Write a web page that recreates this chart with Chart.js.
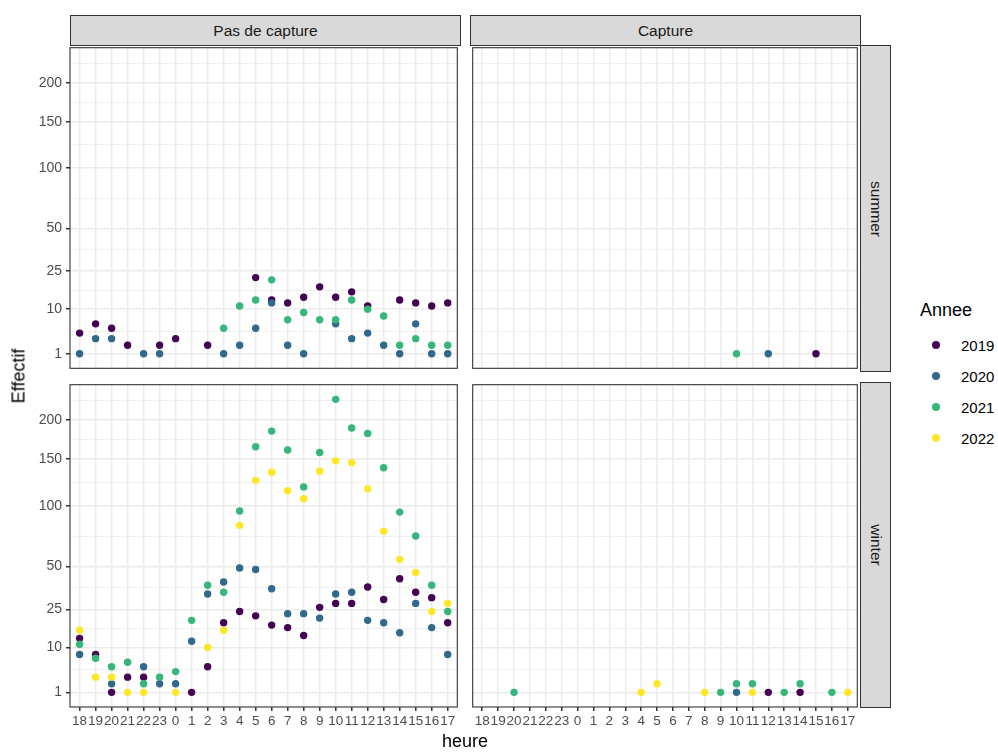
<!DOCTYPE html>
<html>
<head>
<meta charset="utf-8">
<script src="https://cdn.jsdelivr.net/npm/chart.js@4.4.0/dist/chart.umd.min.js"></script>
<style>
  body { margin: 0; background: #fff; font-family: "Liberation Sans", Arial, sans-serif; }
  #wrap { position: relative; width: 998px; height: 753px; overflow: hidden; }
  canvas { position: absolute; }
  .strip { position: absolute; background: #D9D9D9; border: 1px solid #333; box-sizing: border-box;
           color: #1A1A1A; font-size: 15.5px; display: flex; align-items: center; justify-content: center; }
  .strip.side span { transform: rotate(90deg); white-space: nowrap; }
  .title { position: absolute; font-size: 18px; color: #000; white-space: nowrap; }
  .leg { position: absolute; font-size: 15px; color: #000; display: flex; align-items: center; height: 20px; }
  .leg i { display: inline-block; width: 8px; height: 8px; border-radius: 50%; margin-right: 21px; }
</style>
</head>
<body>
<div id="wrap">
  <div class="strip" style="left:70px;top:15px;width:391px;height:31px">Pas de capture</div>
  <div class="strip" style="left:470px;top:15px;width:391px;height:31px">Capture</div>
  <div class="strip side" style="left:860px;top:45px;width:31px;height:327px"><span>summer</span></div>
  <div class="strip side" style="left:860px;top:382px;width:31px;height:326px"><span>winter</span></div>

  <canvas id="sumNo" width="461" height="328" style="left:0;top:44px"></canvas>
  <canvas id="sumCap" width="392" height="328" style="left:469px;top:44px"></canvas>
  <canvas id="winNo" width="461" height="356" style="left:0;top:381px"></canvas>
  <canvas id="winCap" width="392" height="356" style="left:469px;top:381px"></canvas>

  <div class="title" style="left:19px;top:376px;transform:translate(-50%,-50%) rotate(-90deg)">Effectif</div>
  <div class="title" style="left:465px;top:731px;transform:translateX(-50%)">heure</div>

  <div class="title" style="left:920px;top:300px">Annee</div>
  <div id="legend"></div>
</div>
<script>
const hours = ['18','19','20','21','22','23','0','1','2','3','4','5','6','7','8','9','10','11','12','13','14','15','16','17'];
const years = ['2019', '2020', '2021', '2022'];
const colors = ['#440154', '#31688E', '#35B779', '#FDE725'];
const yTickValues = [1, 10, 25, 50, 100, 150, 200];

// summer, pas de capture (one value per hour, null = no point)
const summerNo2019 = [4, 6, 5, 2, null, 2, 3, null, 2, null, null, 22, 13, 12, 14, 18, 14, 16, 11, null, 13, 12, 11, 12];
const summerNo2020 = [1, 3, 3, null, 1, 1, null, null, null, 1, 2, 5, 12, 2, 1, null, 6, 3, 4, 2, 1, 6, 1, 1];
const summerNo2021 = [null, null, null, null, null, null, null, null, null, 5, 11, 13, 21, 7, 9, 7, 7, 13, 10, 8, 2, 3, 2, 2];
const summerNo2022 = [null, null, null, null, null, null, null, null, null, null, null, null, null, null, null, null, null, null, null, null, null, null, null, null];

// summer, capture
const summerCap2019 = [null, null, null, null, null, null, null, null, null, null, null, null, null, null, null, null, null, null, null, null, null, 1, null, null];
const summerCap2020 = [null, null, null, null, null, null, null, null, null, null, null, null, null, null, null, null, null, null, 1, null, null, null, null, null];
const summerCap2021 = [null, null, null, null, null, null, null, null, null, null, null, null, null, null, null, null, 1, null, null, null, null, null, null, null];
const summerCap2022 = [null, null, null, null, null, null, null, null, null, null, null, null, null, null, null, null, null, null, null, null, null, null, null, null];

// winter, pas de capture
const winterNo2019 = [13, 8, 1, 3, 3, null, null, 1, 5, 19, 24, 22, 18, 17, 14, 26, 28, 28, 37, 30, 42, 34, 31, 19];
const winterNo2020 = [8, null, 2, null, 5, 2, 2, 12, 33, 40, 49, 48, 36, 23, 23, 21, 33, 34, 20, 19, 15, 28, 17, 8];
const winterNo2021 = [11, 7, 5, 6, 2, 3, 4, 20, 38, 34, 95, 165, 185, 161, 119, 158, 229, 189, 182, 140, 94, 73, 38, 24];
const winterNo2022 = [16, 3, 3, 1, 1, null, 1, null, 10, 16, 82, 126, 135, 115, 107, 136, 148, 146, 117, 77, 55, 46, 24, 28];

// winter, capture
const winterCap2019 = [null, null, null, null, null, null, null, null, null, null, null, null, null, null, null, null, null, null, 1, null, 1, null, null, null];
const winterCap2020 = [null, null, null, null, null, null, null, null, null, null, null, null, null, null, null, null, 1, null, null, null, null, null, null, null];
const winterCap2021 = [null, null, 1, null, null, null, null, null, null, null, null, null, null, null, null, 1, 2, 2, null, 1, 2, null, 1, null];
const winterCap2022 = [null, null, null, null, null, null, null, null, null, null, 1, 2, null, null, 1, null, null, 1, null, null, null, null, null, 1];

const allSeries = [summerNo2019, summerNo2020, summerNo2021, summerNo2022, summerCap2019, summerCap2020, summerCap2021,
  winterNo2019, winterNo2020, winterNo2021, winterNo2022, winterCap2019, winterCap2020, winterCap2021, winterCap2022];

// sqrt scale, ggplot-style 5% expansion
const vals = allSeries.flat().filter(v => v !== null).map(Math.sqrt);
const sLo = Math.min(...vals), sHi = Math.max(...vals);
const yMin = sLo - (sHi - sLo) * 0.05, yMax = sHi + (sHi - sLo) * 0.05;

const majorS = yTickValues.map(Math.sqrt);
const minorS = [];
for (let i = 0; i < majorS.length - 1; i++) minorS.push((majorS[i] + majorS[i + 1]) / 2);
minorS.push(majorS[majorS.length - 1] + (majorS[majorS.length - 1] - majorS[majorS.length - 2]) / 2);
const yTicks = majorS.concat(minorS.filter(v => v > yMin && v < yMax)).sort((a, b) => a - b);
const majorIdx = v => majorS.findIndex(s => Math.abs(s - v) < 1e-9);

const panelBorder = {
  id: 'panelBorder',
  afterDraw(chart) {
    const { ctx, chartArea: a } = chart;
    ctx.save();
    ctx.strokeStyle = '#333333';
    ctx.lineWidth = 1.1;
    ctx.strokeRect(a.left, a.top, a.right - a.left, a.bottom - a.top);
    ctx.restore();
  }
};

function makePanel(id, series, showX, showY, padding) {
  const datasets = series.map((s, i) => ({
    label: years[i],
    data: s.map((v, k) => v === null ? null : { x: k, y: Math.sqrt(v) }).filter(p => p),
    backgroundColor: colors[i],
    borderWidth: 0,
    pointRadius: 3.7,
    pointHoverRadius: 3.7,
    order: 3 - i
  }));
  new Chart(document.getElementById(id), {
    type: 'scatter',
    data: { datasets },
    options: {
      responsive: false,
      animation: false,
      events: [],
      devicePixelRatio: 1,
      layout: { padding },
      plugins: { legend: { display: false }, tooltip: { enabled: false } },
      scales: {
        x: {
          type: 'linear', min: -0.6, max: 23.6,
          afterBuildTicks: s => { s.ticks = hours.map((h, i) => ({ value: i })); },
          afterFit: s => { s.height = showX ? 30 : 0; s.paddingLeft = 0; s.paddingRight = 0; },
          border: { display: false },
          grid: { color: '#EBEBEB', lineWidth: 1.5, drawTicks: showX, tickLength: 4, tickColor: '#333333' },
          ticks: {
            display: showX, autoSkip: false, maxRotation: 0, minRotation: 0, padding: 2,
            color: '#4D4D4D', font: { family: 'Liberation Sans', size: 13.5 },
            callback: v => hours[v]
          }
        },
        y: {
          min: yMin, max: yMax,
          afterBuildTicks: s => { s.ticks = yTicks.map(v => ({ value: v })); },
          afterFit: s => { s.width = showY ? 70 : 0; s.paddingTop = 0; s.paddingBottom = 0; },
          border: { display: false },
          grid: {
            color: '#EBEBEB',
            lineWidth: c => majorIdx(c.tick.value) >= 0 ? 1.5 : 0.75,
            drawTicks: showY, tickLength: 4,
            tickColor: c => majorIdx(c.tick.value) >= 0 ? '#333333' : 'rgba(0,0,0,0)'
          },
          ticks: {
            display: showY, padding: 4, color: '#4D4D4D', font: { family: 'Liberation Sans', size: 14 },
            callback: v => { const k = majorIdx(v); return k >= 0 ? String(yTickValues[k]) : ''; }
          }
        }
      }
    },
    plugins: [panelBorder]
  });
}

makePanel('sumNo', [summerNo2019, summerNo2020, summerNo2021, summerNo2022], false, true, { top: 1, right: 1, bottom: 1, left: 0 });
makePanel('sumCap', [summerCap2019, summerCap2020, summerCap2021, summerCap2022], false, false, { top: 1, right: 1, bottom: 1, left: 1 });
makePanel('winNo', [winterNo2019, winterNo2020, winterNo2021, winterNo2022], true, true, { top: 1, right: 1, bottom: 0, left: 0 });
makePanel('winCap', [winterCap2019, winterCap2020, winterCap2021, winterCap2022], true, false, { top: 1, right: 1, bottom: 0, left: 1 });

const legend = document.getElementById('legend');
years.forEach((y, i) => {
  const d = document.createElement('div');
  d.className = 'leg';
  d.style.left = '932px';
  d.style.top = (335 + i * 31) + 'px';
  d.innerHTML = '<i style="background:' + colors[i] + '"></i>' + y;
  legend.appendChild(d);
});
</script>
</body>
</html>
